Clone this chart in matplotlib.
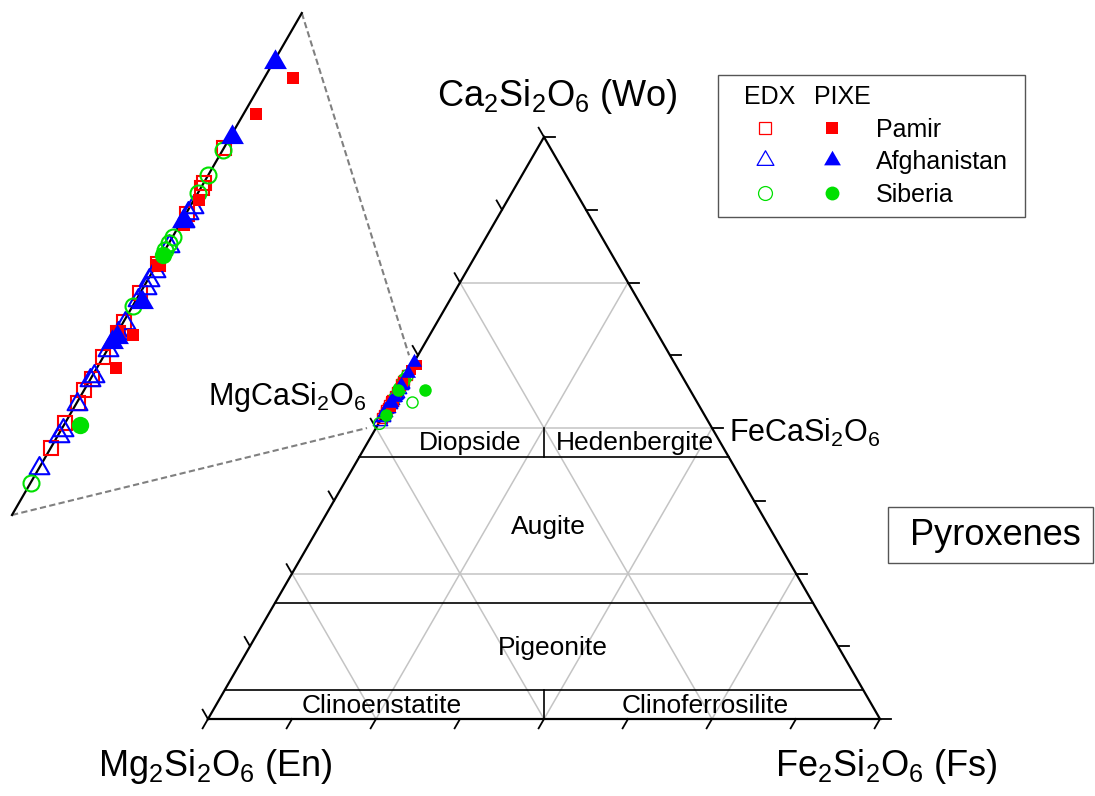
# Pyroxene quadrilateral (Wo-En-Fs) with an enlarged view of the En-Wo join
import numpy as np
import matplotlib.pyplot as plt
from matplotlib.path import Path
from matplotlib.patches import Rectangle

plt.rcParams['font.family'] = ['Liberation Sans', 'DejaVu Sans']
plt.rcParams['mathtext.fontset'] = 'custom'
plt.rcParams['mathtext.rm'] = 'Liberation Sans'
plt.rcParams['mathtext.it'] = 'Liberation Sans:italic'
plt.rcParams['mathtext.bf'] = 'Liberation Sans:bold'

# ---------------------------------------------------#
# compositions, mol% (En = 100 - Wo - Fs)
# ---------------------------------------------------#
pamir_edx_wo = [59.14, 58.27, 58.14, 57.50, 56.25, 55.53, 54.81, 54.53, 53.93, 53.39, 53.11, 52.79, 52.29, 51.67]
pamir_edx_fs = [0.00, 0.01, 0.02, 0.03, 0.02, 0.00, 0.00, 0.02, 0.00, 0.03, 0.00, 0.02, 0.00, 0.00]
pamir_pixe_wo = [60.88, 59.99, 57.84, 57.22, 56.23, 54.48, 53.66, 54.58]
pamir_pixe_fs = [0.62, 0.26, 0.11, 0.10, 0.03, 0.37, 0.41, 0.00]

afgh_edx_wo = [51.17, 51.97, 52.12, 52.76, 53.36, 53.46, 54.11, 54.53, 54.78, 55.35, 55.65, 55.85, 56.08,
               56.70, 57.32, 57.52, 57.67]
afgh_edx_fs = [0.00, 0.02, 0.04, 0.02, 0.00, 0.04, 0.02, 0.03, 0.05, 0.04, 0.06, 0.02, 0.04,
               0.03, 0.05, 0.04, 0.06]
afgh_pixe_wo = [61.28, 59.41, 57.32, 55.30, 54.31, 54.43]
afgh_pixe_fs = [0.03, 0.04, 0.02, 0.15, 0.00, 0.05]

sib_edx_wo = [59.09, 58.47, 58.02, 56.92, 56.77, 56.60, 55.20, 50.80]
sib_edx_fs = [0.00, 0.00, 0.00, 0.01, 0.00, 0.00, 0.01, 0.00]
sib_pixe_wo = [56.47, 52.24]
sib_pixe_fs = [0.02, 0.35]
# Siberian outliers, only inside the full diagram
sib_edx_out_wo, sib_edx_out_fs = [54.47], [3.13]
sib_pixe_out_wo, sib_pixe_out_fs = [56.53], [4.02]

# classification boundaries (Wo %) and grid (%)
wo_limits = [45, 20, 5]
grid_levels = [25, 50, 75]
n_ticks = 8

c_red, c_blue, c_green = '#ff0000', '#0000ff', '#00e000'

SQ3 = np.sqrt(3) / 2
TRI = Path([(0, 1), (-SQ3, -0.5), (SQ3, -0.5), (0, 1)], closed=True)


def tern(wo, fs):
    wo = np.asarray(wo, dtype=float) / 100.0
    fs = np.asarray(fs, dtype=float) / 100.0
    return fs + wo / 2, wo * SQ3


def pix(px, py):
    # figure pixel -> plot units (1 unit = triangle side)
    return (px - 208) / 672, (719 - py) / 672


# enlarged view: Wo 50 .. 62.5 on the En-Wo join
ZOOM = 6.9
P0 = np.array(pix(12, 515))
p0 = np.array(tern(50, 0))


def inset(x, y):
    return P0[0] + ZOOM * (np.asarray(x) - p0[0]), P0[1] + ZOOM * (np.asarray(y) - p0[1])


def main(x, y):
    return x, y


fig = plt.figure(figsize=(10.95, 7.96), dpi=100)
ax = fig.add_axes([0, 0, 1, 1])
xa, ya = pix(0, 0)
xb, yb = pix(1095, 796)
ax.set_xlim(xa, xb)
ax.set_ylim(yb, ya)
ax.axis('off')


def seg(p, q, **kw):
    ax.plot([p[0], q[0]], [p[1], q[1]], **kw)


# grid
for v in grid_levels:
    kw = dict(color='#c4c4c4', lw=1.1, zorder=1)
    seg(tern(v, 0), tern(v, 100 - v), **kw)
    seg(tern(0, v), tern(100 - v, v), **kw)
    seg(tern(0, 100 - v), tern(100 - v, 0), **kw)

# classification fields
for w in wo_limits:
    seg(tern(w, 0), tern(w, 100 - w), color='black', lw=1.2, zorder=2)
seg(tern(45, 27.5), tern(50, 25), color='black', lw=1.2, zorder=2)
seg(tern(0, 50), tern(5, 47.5), color='black', lw=1.2, zorder=2)

# triangle and ticks
corners = [tern(0, 0), tern(0, 100), tern(100, 0), tern(0, 0)]
ax.plot([c[0] for c in corners], [c[1] for c in corners], color='black', lw=1.6, zorder=3,
        solid_joinstyle='miter')
L = 0.016
for i in range(n_ticks + 1):
    f = 100.0 * i / n_ticks
    kw = dict(color='black', lw=1.3, zorder=3)
    p = tern(0, f)
    seg(p, (p[0] - 0.5 * L, p[1] - SQ3 * L), **kw)
    p = tern(f, 100 - f)
    seg(p, (p[0] + L, p[1]), **kw)
    p = tern(f, 0)
    seg(p, (p[0] - 0.5 * L, p[1] + SQ3 * L), **kw)

# enlarged join and connecting lines
a, b = tern(50, 0), tern(62.5, 0)
ia, ib = inset(*a), inset(*b)
seg(ia, ib, color='black', lw=1.6, zorder=3)
off = 9 / 672
seg(ia, (a[0] - off, a[1]), color='#808080', lw=1.5, ls=(0, (3, 1.6)), zorder=2)
seg(ib, (b[0] - off, b[1]), color='#808080', lw=1.5, ls=(0, (3, 1.6)), zorder=2)

# samples
series = [
    (pamir_edx_wo, pamir_edx_fs, 's', c_red, False, 7.0, 9.5),
    (afgh_edx_wo, afgh_edx_fs, TRI, c_blue, False, 12.0, 16.5),
    (sib_edx_wo, sib_edx_fs, 'o', c_green, False, 8.5, 11.5),
    (pamir_pixe_wo, pamir_pixe_fs, 's', c_red, True, 7.0, 9.0),
    (afgh_pixe_wo, afgh_pixe_fs, TRI, c_blue, True, 12.5, 19.0),
    (sib_pixe_wo, sib_pixe_fs, 'o', c_green, True, 9.0, 12.5),
]
for wo, fs, mk, col, filled, ms_main, ms_zoom in series:
    x, y = tern(wo, fs)
    for tf, ms, mew in [(main, ms_main, 1.0), (inset, ms_zoom, 1.5)]:
        xx, yy = tf(x, y)
        ax.plot(xx, yy, ls='none', marker=mk, ms=ms, mfc=col if filled else 'none', mec=col,
                mew=0 if filled else mew, zorder=5 if filled else 4)
x, y = tern(sib_edx_out_wo, sib_edx_out_fs)
ax.plot(x, y, ls='none', marker='o', ms=8.0, mfc='none', mec=c_green, mew=1.0, zorder=4)
x, y = tern(sib_pixe_out_wo, sib_pixe_out_fs)
ax.plot(x, y, ls='none', marker='o', ms=9.0, mfc=c_green, mec=c_green, mew=0, zorder=5)

# end-member labels
ax.text(*pix(557, 106), r'Ca$_2$Si$_2$O$_6$ (Wo)', ha='center', va='baseline', fontsize=26)
ax.text(*pix(215, 776), r'Mg$_2$Si$_2$O$_6$ (En)', ha='center', va='baseline', fontsize=26)
ax.text(*pix(886, 776), r'Fe$_2$Si$_2$O$_6$ (Fs)', ha='center', va='baseline', fontsize=26)
ax.text(*pix(367, 405), r'MgCaSi$_2$O$_6$', ha='right', va='baseline', fontsize=22)
ax.text(*pix(729, 442), r'FeCaSi$_2$O$_6$', ha='left', va='baseline', fontsize=22)

# field names
fields = {
    'Diopside': (470, 450), 'Hedenbergite': (635, 450), 'Augite': (548, 534),
    'Pigeonite': (553, 655), 'Clinoenstatite': (382, 713), 'Clinoferrosilite': (705, 713),
}
for name, (px, py) in fields.items():
    ax.text(*pix(px, py), name, ha='center', va='baseline', fontsize=19)

# title box
bx, by = pix(888, 563)
ax.add_patch(Rectangle((bx, by), 205 / 672, 56 / 672, fill=False, ec='#555555', lw=1.0, zorder=3))
ax.text(*pix(995, 545), 'Pyroxenes', ha='center', va='baseline', fontsize=26)

# legend
lx, ly = pix(718, 217)
ax.add_patch(Rectangle((lx, ly), 307 / 672, 142 / 672, fill=False, ec='#555555', lw=1.0, zorder=3))
ax.text(*pix(770, 104), 'EDX', ha='center', va='baseline', fontsize=18)
ax.text(*pix(842, 104), 'PIXE', ha='center', va='baseline', fontsize=18)
legend_rows = [('Pamir', 's', c_red, 8.0, 128), ('Afghanistan', TRI, c_blue, 14.0, 160),
               ('Siberia', 'o', c_green, 10.0, 193)]
for name, mk, col, ms, py in legend_rows:
    ax.plot(*pix(765, py), ls='none', marker=mk, ms=ms, mfc='none', mec=col, mew=0.9)
    ax.plot(*pix(832, py), ls='none', marker=mk, ms=ms, mfc=col, mec=col, mew=0)
    ax.text(*pix(876, py + 9), name, ha='left', va='baseline', fontsize=18)

fig.savefig('out.png', dpi=100)
